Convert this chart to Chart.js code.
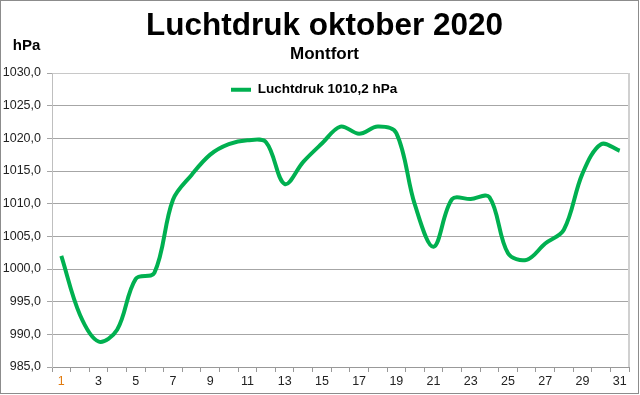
<!DOCTYPE html>
<html><head><meta charset="utf-8">
<script src="https://cdn.jsdelivr.net/npm/chart.js@4.4.1/dist/chart.umd.min.js"></script>
<style>html,body{margin:0;padding:0;background:#fff}#wrap{width:640px;height:395px;position:relative}</style>
</head><body><div id="wrap"><canvas id="c" width="640" height="395"></canvas></div>
<script>
const days = ['1','2','3','4','5','6','7','8','9','10','11','12','13','14','15','16','17','18','19','20','21','22','23','24','25','26','27','28','29','30','31'];
const pressure = [1002.0, 993.0, 988.9, 990.7, 998.5, 999.4, 1010.6, 1014.4, 1017.5, 1019.1, 1019.7, 1019.4, 1013.0, 1016.4, 1019.2, 1021.8, 1020.7, 1021.8, 1020.8, 1009.8, 1003.4, 1010.7, 1010.7, 1011.0, 1002.4, 1001.4, 1003.9, 1006.0, 1014.6, 1019.1, 1018.1];
const xTickLabels = ['1','3','5','7','9','11','13','15','17','19','21','23','25','27','29','31'];
const yTicks = [985, 990, 995, 1000, 1005, 1010, 1015, 1020, 1025, 1030];
const seriesLabel = 'Luchtdruk 1010,2 hPa';
const titleText = 'Luchtdruk oktober 2020';
const subtitleText = 'Montfort';
const unitText = 'hPa';
const FONT = "'Liberation Sans', Arial, sans-serif";

const decor = {
  id: 'decor',
  afterLayout(chart) {
    // shift the title and subtitle blocks so they are centred like the original
    chart.boxes.forEach(b => {
      if (b.options && (b.options.text === titleText || b.options.text === subtitleText)) {
        b.left += 10; b.right += 10;
      }
    });
    // place the legend inside the plot area, near its top
    const lg = chart.legend;
    if (lg) {
      const w = lg.right - lg.left, h = lg.bottom - lg.top;
      lg.left = 221; lg.right = lg.left + w;
      lg.top = chart.chartArea.top; lg.bottom = lg.top + h;
    }
  },
  afterDraw(chart) {
    const ctx = chart.ctx, a = chart.chartArea;
    ctx.save();
    ctx.strokeStyle = '#d0d0d0'; ctx.lineWidth = 2;
    ctx.beginPath(); ctx.moveTo(a.right, a.top); ctx.lineTo(a.right, a.bottom); ctx.stroke();
    ctx.strokeStyle = '#8c8c8c'; ctx.lineWidth = 1;
    ctx.strokeRect(0.5, 0.5, 638, 393);
    ctx.fillStyle = '#000'; ctx.font = 'bold 15px ' + FONT;
    ctx.textAlign = 'center'; ctx.textBaseline = 'alphabetic';
    ctx.fillText(unitText, 26.5, 50);
    ctx.restore();
  }
};

new Chart(document.getElementById('c'), {
  type: 'line',
  data: {
    labels: days,
    datasets: [{
      label: seriesLabel,
      data: pressure,
      borderColor: '#00B050',
      backgroundColor: '#00B050',
      borderWidth: 4,
      pointRadius: 0,
      tension: 0.35,
      fill: false
    }]
  },
  options: {
    responsive: false,
    animation: false,
    devicePixelRatio: 1,
    events: [],
    layout: { padding: { left: 0, right: 11, top: 0, bottom: 0 } },
    plugins: {
      title: { display: true, text: titleText, color: '#000',
        font: { family: FONT, size: 31.5, weight: 'bold', lineHeight: 1 },
        padding: { top: 10.6, bottom: 0 } },
      subtitle: { display: true, text: subtitleText, color: '#000',
        font: { family: FONT, size: 17, weight: 'bold', lineHeight: 1 },
        padding: { top: 3.4, bottom: 10.5 } },
      legend: { display: true, position: 'chartArea', align: 'start',
        labels: { usePointStyle: true, pointStyle: 'line', pointStyleWidth: 20, padding: 10,
          color: '#000', font: { family: FONT, size: 13.5, weight: 'bold' } } },
      tooltip: { enabled: false }
    },
    scales: {
      x: {
        type: 'category', offset: true,
        grid: { offset: true, drawOnChartArea: false, drawTicks: true, tickLength: 5, color: '#999' },
        border: { color: '#999', width: 1 },
        ticks: { autoSkip: false, maxRotation: 0, minRotation: 0, padding: 2,
          font: { family: FONT, size: 12.5 },
          color: (c) => c.index === 0 ? '#e07b10' : '#222',
          callback: function (v) { const l = this.getLabelForValue(v); return xTickLabels.includes(l) ? l : ''; } },
        afterFit(s) { s.height = 28; }
      },
      y: {
        min: 985, max: 1030,
        afterBuildTicks(s) { s.ticks = yTicks.map(v => ({ value: v })); },
        grid: { color: (c) => (c.tick && c.tick.value === 1030) ? '#c8c8c8' : '#a6a6a6', tickLength: 5, drawTicks: true, tickColor: '#a6a6a6' },
        border: { color: '#bfbfbf', width: 1 },
        ticks: { padding: 6, color: '#222', font: { family: FONT, size: 12.5 },
          callback: (v) => Number(v).toFixed(1).replace('.', ',') },
        afterFit(s) { s.width = 52; }
      }
    }
  },
  plugins: [decor]
});
</script></body></html>
